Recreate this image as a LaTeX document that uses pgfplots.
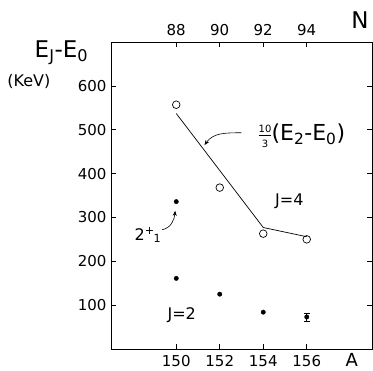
\documentclass[border=0pt]{standalone}
\usepackage{pgfplots}
\pgfplotsset{compat=1.18}
\usepackage{fontspec}
\setmainfont{DejaVu Sans}
\usetikzlibrary{arrows.meta}
\begin{document}
\begin{tikzpicture}
\useasboundingbox (-111pt,-22pt) rectangle (262pt,349pt);
\begin{axis}[
  name=main,
  at={(0,0)}, anchor=south west,
  scale only axis,
  width=261pt, height=307pt,
  xmin=147, xmax=159, ymin=0, ymax=700,
  xtick={150,152,154,156},
  ytick={100,200,300,400,500,600},
  xtick pos=bottom,
  ytick pos=both,
  tick align=inside,
  major tick length=5pt,
  tick style={line width=0.6pt, black},
  axis line style={line width=0.8pt},
  /pgf/number format/assume math mode=true,
  /pgf/number format/1000 sep={},
  ticklabel style={font=\fontsize{15}{18}\selectfont},
  xticklabel style={yshift=-3pt},
  yticklabel style={xshift=-1pt},
  clip=false,
]
% J=4 open circles
\addplot[only marks, mark=o, mark size=3.8pt, mark options={line width=0.7pt}] coordinates {
 (150,557) (152,368) (154,263) (156,250)
};
% 10/3 (E2-E0) line
\addplot[no marks, line width=0.7pt] coordinates {
 (150,537) (154,277) (156,256)
};
% J=2 filled dots and 2+1 point
\addplot[only marks, mark=*, mark size=2.2pt] coordinates {
 (150,161) (152,125) (154,84) (150,336)
};
\addplot[only marks, mark=*, mark size=2.2pt,
  error bars/.cd, y dir=both, y explicit, error mark options={rotate=90, mark size=3pt, line width=0.6pt}, error bar style={line width=0.6pt}]
 coordinates {(156,73) +- (0,9)};
% annotations
\node[font=\fontsize{22}{26}\selectfont] at (axis cs:155.75,486) {$\frac{\mbox{\fontsize{10}{10}\selectfont 10}}{\mbox{\fontsize{10}{10}\selectfont 3}}$\kern-1pt(E\textsubscript{2}-E\textsubscript{0})};
\draw[-{Stealth[length=5pt,width=4pt]}, line width=0.6pt] (axis cs:153.0,493) to[out=180,in=55] (axis cs:151.3,465);
\node[font=\fontsize{16}{19}\selectfont] at (axis cs:155.2,336) {J=4};
\node[font=\fontsize{16}{19}\selectfont] at (axis cs:150.25,77) {J=2};
\node[font=\fontsize{16}{19}\selectfont] at (axis cs:148.7,260) {2\textsuperscript{+}\kern-1pt\textsubscript{1}};
\draw[-{Stealth[length=5pt,width=4pt]}, line width=0.6pt] (axis cs:149.35,272) to[out=10,in=-95] (axis cs:149.95,315);
% outside labels
\node[font=\fontsize{23}{27}\selectfont] at (axis description cs:-0.19,0.965) {E\textsubscript{J}-E\textsubscript{0}};
\node[font=\fontsize{16}{19}\selectfont] at (axis description cs:-0.315,0.87) {(KeV)};
\node[font=\fontsize{18}{21}\selectfont, anchor=base, inner sep=0pt] at (axis description cs:0.923,-0.058) {A};
\end{axis}
\begin{axis}[
  at={(0,0)}, anchor=south west,
  scale only axis,
  width=261pt, height=307pt,
  xmin=85, xmax=97, ymin=0, ymax=700,
  axis x line*=top,
  axis y line=none,
  xtick={88,90,92,94},
  tick align=inside,
  major tick length=5pt,
  tick style={line width=0.6pt, black},
  axis line style={line width=0.8pt},
  /pgf/number format/assume math mode=true,
  ticklabel style={font=\fontsize{15}{18}\selectfont},
  xticklabel style={yshift=3pt},
  clip=false,
]
\node[font=\fontsize{23}{27}\selectfont] at (axis description cs:0.954,1.07) {N};
\end{axis}
\end{tikzpicture}
\end{document}
